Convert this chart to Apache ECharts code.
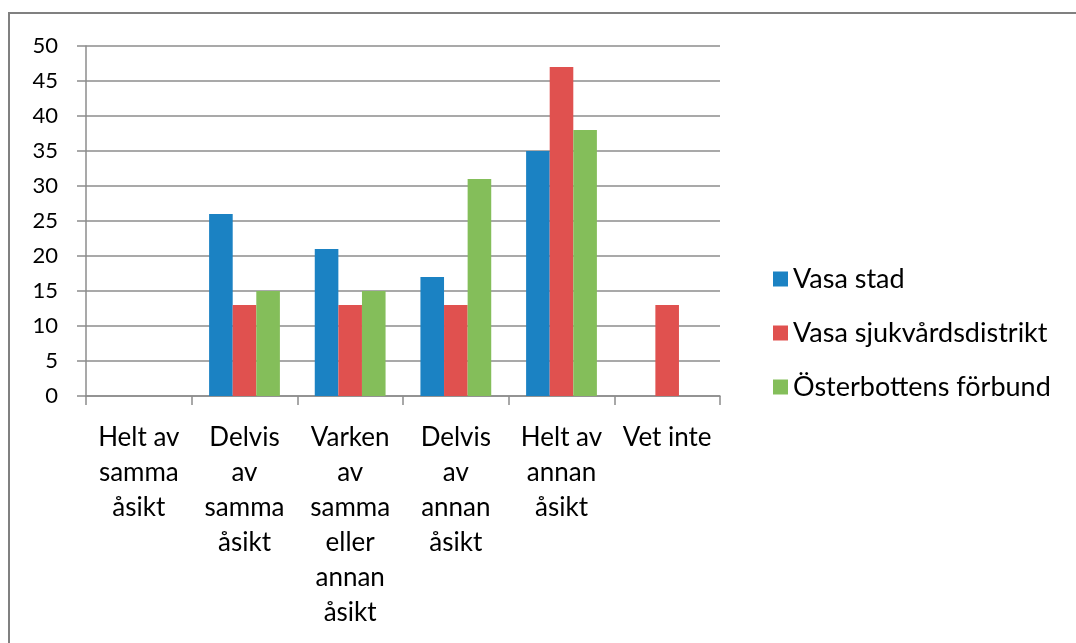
<!DOCTYPE html>
<html lang="sv">
<head>
  <meta charset="UTF-8">
  <script src="https://cdn.jsdelivr.net/npm/echarts@6/dist/echarts.min.js"></script>
  <title>ECharts</title>
  <style>
    html, body { margin: 0; padding: 0; background: #fff; }
    .container { width: 1076px; height: 643px; }
  </style>
</head>
<body>
  <div class="container"></div>
  <script>
    const categories = [
      "Helt av\nsamma\nåsikt",
      "Delvis\nav\nsamma\nåsikt",
      "Varken\nav\nsamma\neller\nannan\nåsikt",
      "Delvis\nav\nannan\nåsikt",
      "Helt av\nannan\nåsikt",
      "Vet inte"
    ];
    const vasaStad = [0, 26, 21, 17, 35, 0];
    const sjukvard = [0, 13, 13, 13, 47, 13];
    const forbund = [0, 15, 15, 31, 38, 0];
    const seriesNames = ["Vasa stad", "Vasa sjukvårdsdistrikt", "Österbottens förbund"];

    const font = "Lato, 'Open Sans', sans-serif";
    const chart = echarts.init(document.querySelector(".container"));

    const barStyle = (name, data, color) => ({
      name: name,
      type: "bar",
      data: data,
      barGap: "0%",
      barCategoryGap: "33%",
      itemStyle: { color: color },
      emphasis: { disabled: true }
    });

    chart.setOption({
      animation: false,
      textStyle: { fontFamily: font },
      graphic: [{
        type: "rect",
        shape: { x: 9, y: 13, width: 1200, height: 800 },
        style: { fill: "none", stroke: "#808080", lineWidth: 2 }
      }],
      grid: { left: 86, right: 356, top: 46, bottom: 247 },
      legend: {
        orient: "vertical",
        left: 768,
        top: 259,
        itemWidth: 15,
        itemHeight: 15,
        itemGap: 24,
        icon: "rect",
        textStyle: { fontSize: 27, lineHeight: 30, color: "#000", fontFamily: font, padding: [0, 0, 0, 0] },
        data: seriesNames
      },
      xAxis: {
        type: "category",
        data: categories,
        axisLine: { lineStyle: { color: "#8c8c8c", width: 1.5 } },
        axisTick: { show: true, length: 9, lineStyle: { color: "#8c8c8c", width: 1.5 } },
        axisLabel: {
          interval: 0,
          fontSize: 26,
          color: "#000",
          lineHeight: 35,
          margin: 24,
          fontFamily: font
        }
      },
      yAxis: {
        type: "value",
        min: 0,
        max: 50,
        interval: 5,
        axisLine: { show: true, lineStyle: { color: "#8c8c8c", width: 1.5 } },
        axisTick: { show: true, length: 9, lineStyle: { color: "#8c8c8c", width: 1.5 } },
        splitLine: { lineStyle: { color: "#8c8c8c", width: 1.5 } },
        axisLabel: { fontSize: 22, color: "#000", margin: 28, fontFamily: font }
      },
      series: [
        barStyle(seriesNames[0], vasaStad, "#1b82c3"),
        barStyle(seriesNames[1], sjukvard, "#e0514f"),
        barStyle(seriesNames[2], forbund, "#84be5a")
      ]
    });
  </script>
</body>
</html>
